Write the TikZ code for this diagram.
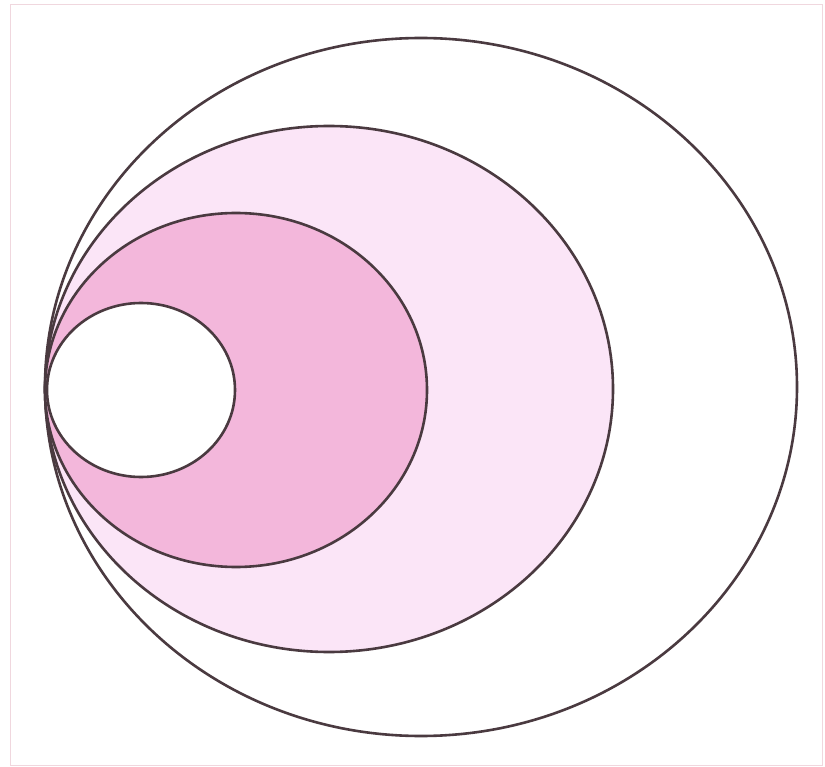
\documentclass[tikz,border=0pt]{standalone}
\begin{document}
\begin{tikzpicture}[x=1pt,y=-1pt,
  rim/.style={draw=lineC, line width=2.6pt},
]
\definecolor{lineC}{RGB}{74,58,64}
\definecolor{lightP}{RGB}{251,229,247}
\definecolor{darkP}{RGB}{243,183,219}
\definecolor{frameC}{RGB}{240,215,222}
\useasboundingbox (0,0) rectangle (825,767);
\fill[white] (0,0) rectangle (825,767);
\draw[frameC, line width=1pt] (10,5) rectangle (822,765);
\path[rim, fill=white] (421,387) ellipse [x radius=376, y radius=349];
\path[rim, fill=lightP] (329,389) ellipse [x radius=284, y radius=263];
\path[rim, fill=darkP] (236,390) ellipse [x radius=191, y radius=177];
\path[rim, fill=white] (141,390) ellipse [x radius=94, y radius=87];
\end{tikzpicture}
\end{document}
